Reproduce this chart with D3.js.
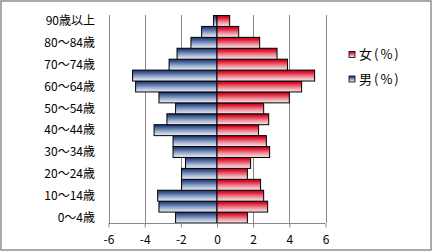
<!DOCTYPE html>
<html>
<head>
<meta charset="utf-8">
<script src="https://cdn.jsdelivr.net/npm/d3@7"></script>
<style>
  body { margin: 0; background: #fff; }
  svg text { font-family: "Noto Sans CJK JP", "Noto Sans", sans-serif; fill: #000; }
</style>
</head>
<body>
<svg id="grafico" width="433" height="252"></svg>
<script>
// categorias de baixo para cima
let categorias = ['0～4歳', '5～9歳', '10～14歳', '15～19歳', '20～24歳', '25～29歳', '30～34歳',
  '35～39歳', '40～44歳', '45～49歳', '50～54歳', '55～59歳', '60～64歳', '65～69歳',
  '70～74歳', '75～79歳', '80～84歳', '85～89歳', '90歳以上'];
let homens = [-2.29, -3.21, -3.28, -1.96, -1.96, -1.74, -2.43, -2.43, -3.48, -2.77,
  -2.29, -3.21, -4.5, -4.67, -2.65, -2.21, -1.44, -0.85, -0.19];
let mulheres = [1.68, 2.8, 2.58, 2.41, 1.68, 1.86, 2.91, 2.73, 2.3, 2.86,
  2.58, 4.0, 4.68, 5.4, 3.9, 3.32, 2.36, 1.2, 0.7];
let ticks = [-6, -4, -2, 0, 2, 4, 6];
let legenda = ['女(%)', '男(%)'];

let svg = d3.select('#grafico');

svg.append('rect')
  .attr('x', 1).attr('y', 1)
  .attr('width', 430).attr('height', 249)
  .attr('fill', '#fff')
  .attr('stroke', '#8f8f8f')
  .attr('stroke-width', 1.5);

let defs = svg.append('defs');
function gradiente(id, cores) {
  let g = defs.append('linearGradient').attr('id', id)
    .attr('x1', 0).attr('y1', 0).attr('x2', 0).attr('y2', 1);
  cores.forEach(c => g.append('stop').attr('offset', c[0]).attr('stop-color', c[1]));
}
gradiente('gh', [[0, '#1b2f5e'], [0.2, '#3a5690'], [0.6, '#9aaccd'], [1, '#eef1f7']]);
gradiente('gm', [[0, '#b0001c'], [0.2, '#e0152f'], [0.6, '#ec8d98'], [1, '#faeaec']]);

let fnx = d3.scaleLinear().domain([-6, 6]).range([108.5, 325.5]);
let fny = d3.scaleBand().domain(categorias).range([223, 15.5]).padding(0);

let plot = svg.append('g');

// grade vertical
plot.selectAll('.grade')
  .data(ticks)
  .join('line')
  .attr('class', 'grade')
  .attr('x1', d => Math.round(fnx(d)) + 0.5)
  .attr('x2', d => Math.round(fnx(d)) + 0.5)
  .attr('y1', 15)
  .attr('y2', 223)
  .attr('stroke', '#878787');

plot.selectAll('.homem')
  .data(homens)
  .join('rect')
  .attr('class', 'homem')
  .attr('x', d => fnx(d))
  .attr('y', (d, i) => fny(categorias[i]))
  .attr('width', d => fnx(0) - fnx(d))
  .attr('height', fny.bandwidth())
  .attr('fill', 'url(#gh)')
  .attr('stroke', '#000')
  .attr('stroke-width', 1);

plot.selectAll('.mulher')
  .data(mulheres)
  .join('rect')
  .attr('class', 'mulher')
  .attr('x', fnx(0))
  .attr('y', (d, i) => fny(categorias[i]))
  .attr('width', d => fnx(d) - fnx(0))
  .attr('height', fny.bandwidth())
  .attr('fill', 'url(#gm)')
  .attr('stroke', '#000')
  .attr('stroke-width', 1);

// eixo x
let eixo = svg.append('g')
  .attr('transform', 'translate(0, 223.5)')
  .call(d3.axisBottom(fnx).tickValues(ticks).tickFormat(d => String(d)).tickSize(4).tickPadding(8));
eixo.select('.domain').attr('stroke', '#878787').attr('d', 'M' + fnx(-6) + ',0H' + fnx(6));
eixo.selectAll('.tick line').attr('stroke', '#878787');
eixo.selectAll('.tick text').attr('font-size', 12).attr('fill', '#000')
  .attr('font-family', '"Noto Sans CJK JP", sans-serif');

// rótulos das categorias (um sim, um não)
svg.selectAll('.rotulo')
  .data(categorias.filter((d, i) => i % 2 == 0))
  .join('text')
  .attr('class', 'rotulo')
  .text(d => d)
  .attr('x', 95)
  .attr('y', d => fny(d) + fny.bandwidth() / 2)
  .attr('dy', '0.36em')
  .attr('text-anchor', 'end')
  .attr('font-size', 12);

// legenda
let leg = svg.selectAll('.leg')
  .data(legenda)
  .join('g')
  .attr('class', 'leg')
  .attr('transform', (d, i) => 'translate(349,' + (51.5 + i * 24.5) + ')');
leg.append('rect')
  .attr('width', 6).attr('height', 6)
  .attr('fill', (d, i) => i == 0 ? 'url(#gm)' : 'url(#gh)')
  .attr('stroke', '#000')
  .attr('stroke-width', 0.8);
leg.append('text')
  .text(d => d)
  .attr('x', 10)
  .attr('y', 3)
  .attr('dy', '0.36em')
  .attr('font-size', 13)
  .attr('letter-spacing', 2);
</script>
</body>
</html>
